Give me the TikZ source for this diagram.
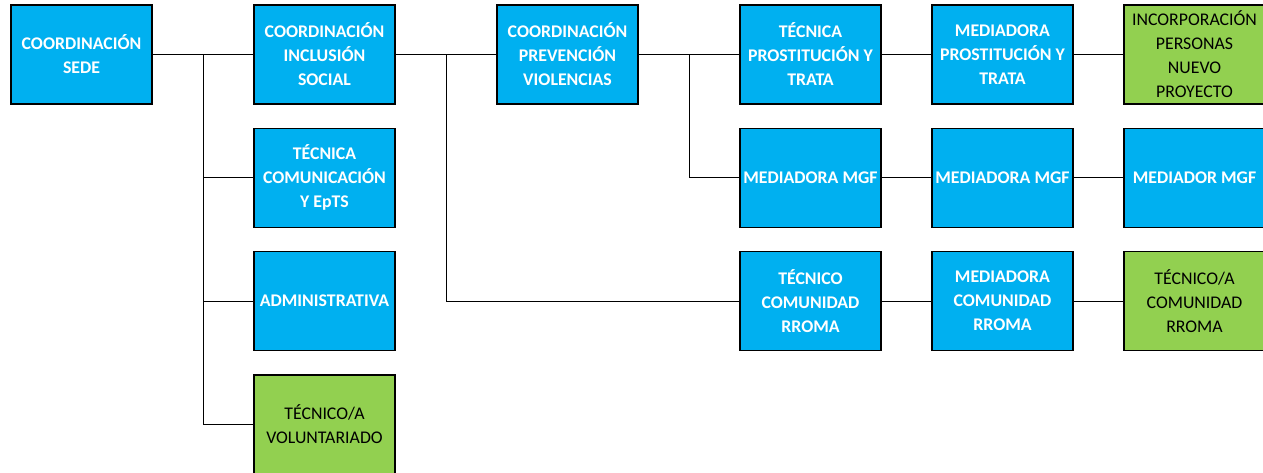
\documentclass[tikz,border=0pt]{standalone}
\usepackage{fontspec}
\setmainfont{Carlito}
\usetikzlibrary{positioning,calc}
\definecolor{azulcargo}{HTML}{00B0F0}
\definecolor{verdenuevo}{HTML}{92D050}

\begin{document}
\begin{tikzpicture}[x=1pt, y=1pt, node distance=243pt,
        cargo/.style={draw, line width=1.2pt, fill=azulcargo, minimum width=141pt, minimum height=99pt,
          inner sep=0pt, align=center, text=white, font=\fontsize{17.8}{24}\selectfont\bfseries},
        nuevo/.style={cargo, fill=verdenuevo, text=black, font=\fontsize{17.8}{24}\selectfont},
        enlace/.style={line width=1pt}]
        \useasboundingbox (0,0) rectangle (1263,-472);
        \node[cargo] (sede) at (81.5,-54.5) {COORDINACIÓN\\SEDE}; %raiz
        \node[cargo] (incl) [right of=sede] {COORDINACIÓN\\INCLUSIÓN\\SOCIAL};
        \node[cargo] (comu) [below of=incl, node distance=123.3pt] {TÉCNICA\\COMUNICACIÓN\\Y EpTS};
        \node[cargo] (admin) [below of=comu, node distance=123.3pt] {ADMINISTRATIVA};
        \node[nuevo] (volu) [below of=admin, node distance=123.3pt] {TÉCNICO/A\\VOLUNTARIADO};
        \node[cargo] (prev) [right of=incl] {COORDINACIÓN\\PREVENCIÓN\\VIOLENCIAS};
        \node[cargo] (tpros) [right of=prev] {TÉCNICA\\PROSTITUCIÓN Y\\TRATA};
        \node[cargo] (mpros) [right of=tpros, node distance=192pt] {MEDIADORA\\PROSTITUCIÓN Y\\TRATA};
        \node[nuevo] (incorp) [right of=mpros, node distance=192pt] {INCORPORACIÓN\\PERSONAS\\NUEVO\\PROYECTO};
        \node[cargo] (tmgf) [below of=tpros, node distance=123.3pt] {MEDIADORA MGF};
        \node[cargo] (mmgf) [right of=tmgf, node distance=192pt] {MEDIADORA MGF};
        \node[cargo] (omgf) [right of=mmgf, node distance=192pt] {MEDIADOR MGF};
        \node[cargo] (troma) [below of=tmgf, node distance=123.3pt] {TÉCNICO\\COMUNIDAD\\RROMA};
        \node[cargo] (mroma) [right of=troma, node distance=192pt] {MEDIADORA\\COMUNIDAD\\RROMA};
        \node[nuevo] (nroma) [right of=mroma, node distance=192pt] {TÉCNICO/A\\COMUNIDAD\\RROMA};

        % ramas
        \coordinate (j1) at ($(sede.east)!.5!(incl.west)$);
        \coordinate (j2) at ($(incl.east)!.5!(prev.west)$);
        \coordinate (j3) at ($(prev.east)!.5!(tpros.west)$);
        \draw[enlace] (j1) |- (comu.west);
        \draw[enlace] (j1) |- (admin.west);
        \draw[enlace] (j1) |- (volu.west);
        \draw[enlace] (j2) |- (troma.west);
        \draw[enlace] (j3) |- (tmgf.west);

        \path[enlace]
        (sede) edge (incl)
        (incl) edge (prev)
        (prev) edge (tpros)
        (tpros) edge (mpros)
        (mpros) edge (incorp)
        (tmgf) edge (mmgf)
        (mmgf) edge (omgf)
        (troma) edge (mroma)
        (mroma) edge (nroma);
      \end{tikzpicture}
\end{document}
